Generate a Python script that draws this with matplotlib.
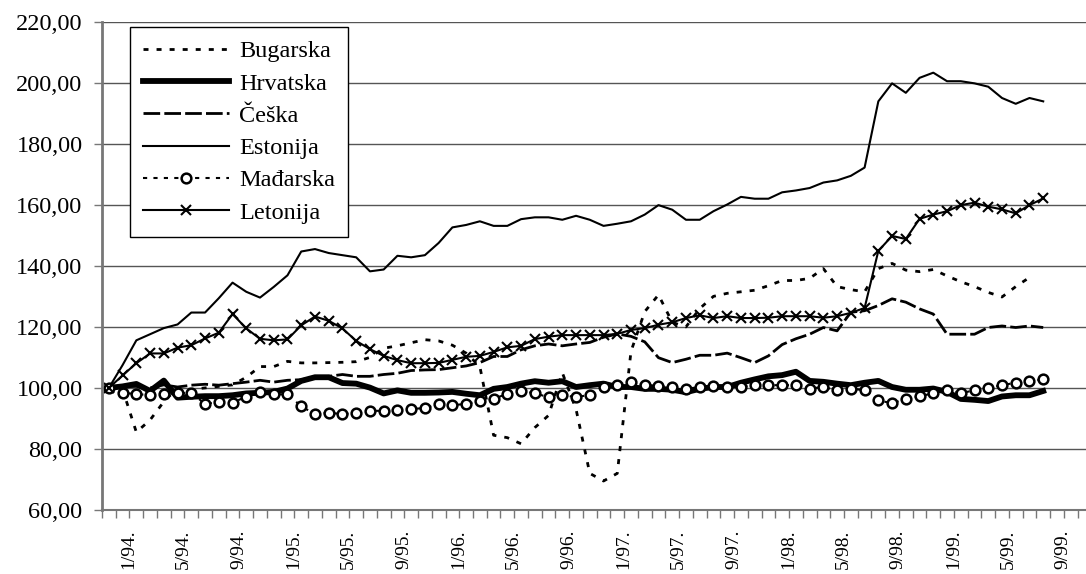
import numpy as np
import matplotlib
matplotlib.use("Agg")
import matplotlib.pyplot as plt
import matplotlib.ticker as ticker
from matplotlib.transforms import ScaledTranslation

# Serifni font kao u originalu
plt.rcParams["font.family"] = ["Liberation Serif", "DejaVu Serif"]

# Oznake na x osi (svaki 4. mjesec, 1/94 - 9/99)
oznake_x = ["1/94.", "5/94.", "9/94.", "1/95.", "5/95.", "9/95.",
            "1/96.", "5/96.", "9/96.", "1/97.", "5/97.", "9/97.",
            "1/98.", "5/98.", "9/98.", "1/99.", "5/99.", "9/99."]

# Mjesečni indeksi (1/94 = 100)
bugarska = [100, 99.5, 85.5, 89.5, 95.5, 100.0, 99.5, 100.0, 100.5, 101.0,
            103.5, 107.0, 107.0, 108.7, 108.2, 108.2, 108.3, 108.4, 108.6, 110.0,
            113.0, 113.8, 114.8, 115.8, 115.4, 114.0, 111.4, 107.0, 84.5, 83.7,
            81.7, 87.0, 91.0, 105.0, 93.0, 72.0, 69.5, 72.0, 112.0, 125.0,
            130.5, 121.5, 120.0, 126.0, 130.0, 131.0, 131.5, 132.0, 133.5, 135.2,
            135.2, 135.9, 139.1, 133.2, 132.2, 131.5, 139.1, 140.8, 138.6, 138.1,
            138.8, 136.7, 134.8, 133.2, 131.3, 129.8, 133.2, 136.2, np.nan]

hrvatska = [100, 100.5, 101.3, 99.0, 102.4, 96.8, 97.1, 97.3, 97.3, 97.6,
            98.2, 98.4, 98.7, 99.8, 102.3, 103.5, 103.5, 101.6, 101.4, 100.1,
            98.2, 99.2, 98.4, 98.4, 98.5, 98.7, 98.1, 97.6, 99.7, 100.3,
            101.4, 102.2, 101.7, 102.2, 100.3, 100.9, 101.4, 100.3, 100.3, 99.7,
            99.7, 99.4, 98.6, 99.7, 100.3, 100.3, 101.7, 102.8, 103.8, 104.2,
            105.3, 102.3, 102.0, 101.4, 100.9, 101.7, 102.3, 100.3, 99.4, 99.4,
            99.8, 98.7, 96.4, 96.1, 95.7, 97.2, 97.6, 97.6, 99.0]

ceska = [100, 100.5, 100.5, 100.0, 101.0, 100.3, 100.9, 101.2, 100.9, 101.4,
         101.9, 102.5, 101.9, 102.5, 102.7, 103.5, 103.8, 104.4, 103.8, 103.8,
         104.4, 104.8, 105.7, 105.9, 106.0, 106.6, 107.2, 108.3, 110.3, 110.3,
         112.5, 113.8, 114.4, 113.8, 114.4, 114.9, 116.6, 117.7, 116.9, 115.1,
         109.9, 108.3, 109.4, 110.7, 110.7, 111.4, 109.9, 108.3, 110.5, 114.2,
         116.1, 117.6, 119.8, 118.7, 124.8, 125.3, 127.0, 129.2, 128.1, 125.9,
         124.2, 117.6, 117.6, 117.6, 119.8, 120.3, 119.8, 120.3, 119.8]

estonija = [100, 107.5, 115.6, 117.6, 119.6, 120.8, 124.7, 124.7, 129.4, 134.5,
            131.5, 129.6, 133.1, 136.9, 144.7, 145.5, 144.2, 143.5, 142.8, 138.2,
            138.8, 143.3, 142.8, 143.5, 147.5, 152.6, 153.4, 154.6, 153.1, 153.1,
            155.3, 155.9, 155.9, 155.1, 156.4, 155.1, 153.1, 153.8, 154.6, 156.8,
            159.9, 158.4, 155.1, 155.1, 157.9, 160.1, 162.6, 162.0, 162.0, 164.1,
            164.7, 165.5, 167.3, 168.0, 169.5, 172.2, 193.9, 199.8, 196.7, 201.6,
            203.3, 200.5, 200.5, 199.8, 198.7, 195.0, 193.1, 195.0, 193.9]

madarska = [100, 98.4, 98.0, 97.6, 98.0, 98.2, 98.5, 94.7, 95.5, 95.2,
            97.1, 98.7, 97.9, 97.9, 94.0, 91.4, 91.9, 91.4, 91.9, 92.5,
            92.5, 92.8, 93.1, 93.4, 94.7, 94.3, 94.8, 95.6, 96.4, 98.1,
            98.9, 98.3, 96.9, 97.8, 96.9, 97.8, 100.3, 101.1, 101.9, 101.1,
            100.6, 100.3, 99.7, 100.3, 100.6, 100.3, 100.3, 101.1, 100.9, 100.9,
            100.9, 99.8, 100.3, 99.2, 99.8, 99.2, 95.9, 95.0, 96.4, 97.2,
            98.3, 99.4, 98.3, 99.2, 100.0, 100.9, 101.7, 102.2, 102.8]

letonija = [100, 104.1, 108.1, 111.3, 111.3, 113.2, 114.0, 116.2, 118.1, 124.2,
            119.5, 116.1, 115.6, 115.9, 120.5, 123.4, 122.0, 119.5, 115.4, 112.7,
            110.5, 109.1, 108.1, 108.1, 108.2, 109.2, 110.2, 110.5, 111.8, 113.3,
            113.8, 116.0, 116.8, 117.3, 117.3, 117.3, 117.3, 117.7, 119.0, 119.6,
            120.7, 121.5, 122.9, 123.8, 122.9, 123.5, 122.9, 122.9, 123.0, 123.5,
            123.5, 123.5, 123.0, 123.5, 124.6, 126.2, 144.9, 149.8, 148.8, 155.4,
            156.8, 157.9, 159.9, 160.7, 159.4, 158.5, 157.2, 159.9, 162.1]


def main():
    x = np.arange(len(estonija))

    fig = plt.figure(figsize=(10.86, 5.74), dpi=100)
    ax = fig.add_axes([102 / 1086, 64 / 574, 984 / 1086, 488.3 / 574])

    ax.plot(x, bugarska, color="black", lw=2.0, linestyle=(0, (1.8, 2.9)), label="Bugarska")
    ax.plot(x, hrvatska, color="black", lw=4.2, label="Hrvatska")
    ax.plot(x, ceska, color="black", lw=2.0, linestyle=(0, (6, 1.5)), label="Češka")
    ax.plot(x, estonija, color="black", lw=1.5, label="Estonija")
    ax.plot(x, madarska, color="black", lw=1.5, linestyle=(0, (2, 3)),
            marker="o", ms=7, mfc="white", mec="black", mew=1.8, label="Mađarska")
    ax.plot(x, letonija, color="black", lw=1.5, marker="x", ms=7, mew=1.5, label="Letonija")

    # Y os
    ax.set_ylim(60, 220)
    ax.set_yticks(np.arange(60, 221, 20))
    ax.yaxis.set_major_formatter(ticker.FuncFormatter(lambda v, _: f"{v:.2f}".replace(".", ",")))
    ax.tick_params(axis="y", length=6, width=1, color="#777777", pad=8, labelsize=17.5)
    ax.grid(axis="y", color="#555555", lw=1)
    ax.set_axisbelow(True)

    # X os - kategorije po mjesecima
    ax.set_xlim(-0.45, -0.45 + 984 / 13.75)
    ax.set_xticks(x[::4])
    ax.set_xticklabels(oznake_x, rotation=90, fontsize=14)
    ax.tick_params(axis="x", which="major", length=0, pad=14)
    ax.set_xticks(np.arange(-0.5, 71.5, 1), minor=True)
    ax.tick_params(axis="x", which="minor", length=6, width=1, color="#777777")
    pomak = ScaledTranslation(0.20, 0, fig.dpi_scale_trans)
    for lbl in ax.get_xticklabels():
        lbl.set_transform(lbl.get_transform() + pomak)

    for s in ["top", "right"]:
        ax.spines[s].set_visible(False)
    ax.spines["left"].set_color("#777777")
    ax.spines["left"].set_linewidth(2)
    ax.spines["bottom"].set_color("#777777")
    ax.spines["bottom"].set_linewidth(1.5)

    leg = ax.legend(loc="upper left", bbox_to_anchor=(0.028, 0.989), borderaxespad=0,
                    frameon=True, fancybox=False, edgecolor="black", framealpha=1,
                    fontsize=17.5, handlelength=3.55, handletextpad=0.4,
                    labelspacing=0.42, borderpad=0.55, numpoints=1)
    leg.get_frame().set_linewidth(1.0)

    fig.savefig("out.png", dpi=100)
    plt.close(fig)


if __name__ == "__main__":
    main()
